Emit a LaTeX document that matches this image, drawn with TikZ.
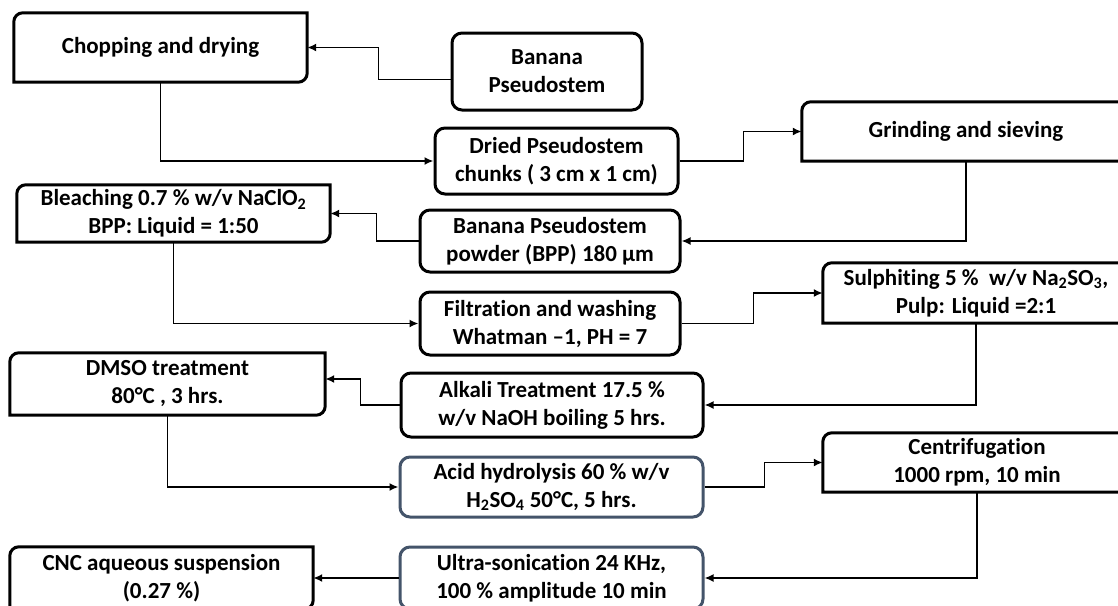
\documentclass[tikz,border=0pt]{standalone}
\usepackage{fontspec}
\setmainfont{Carlito}[Ligatures=NoCommon]
\usepackage{xcolor}
\usepackage{tikz}
\usetikzlibrary{arrows.meta}

\definecolor{slate}{HTML}{44546A}

% box with only the top left and bottom right corners rounded
\newcommand{\cornerbox}[1]{%
  \draw[line width=3pt]
    ([yshift=-9pt]#1.north west) arc[start angle=180, end angle=90, radius=9pt]
    -- (#1.north east) -- ([yshift=9pt]#1.south east)
    arc[start angle=0, end angle=-90, radius=9pt]
    -- (#1.south west) -- cycle;}

\begin{document}
\begin{tikzpicture}[
    x=1pt, y=1pt,
    every node/.style={font=\bfseries\fontsize{23}{28}\selectfont, align=center, inner sep=0pt},
    stage/.style={draw, rounded corners=10pt, line width=3pt},
    side/.style={draw=none},
    acidbox/.style={draw=slate, rounded corners=10pt, line width=3pt},
    arr/.style={-{Latex[length=9pt,width=8pt]}, line width=1.8pt}
]
\useasboundingbox (0,0) rectangle (1118,-605);
\clip (0,0) rectangle (1118,-605);

\node[side, minimum width=293pt, minimum height=69pt] (chop) at (160.5,-47.5) {Chopping and drying};
\node[stage, minimum width=190pt, minimum height=77pt] (banana) at (547,-71.5) {Banana\\Pseudostem};
\node[stage, minimum width=243pt, minimum height=66pt] (dried) at (556.5,-161) {Dried Pseudostem\\chunks ( 3 cm x 1 cm)};
\node[side, minimum width=328pt, minimum height=59pt] (grind) at (966,-131.5) {Grinding and sieving};
\node[stage, minimum width=260pt, minimum height=62pt] (bpp) at (550,-241) {Banana Pseudostem\\powder (BPP) 180 µm};
\node[side, minimum width=313pt, minimum height=57pt] (bleach) at (173.5,-213.5) {Bleaching 0.7 \% w/v NaClO\textsubscript{2}\\BPP: Liquid = 1:50};
\node[stage, minimum width=260pt, minimum height=63pt] (filt) at (550,-323.5) {Filtration and washing\\Whatman –1, PH = 7};
\node[side, minimum width=306pt, minimum height=60pt] (sulph) at (976,-293) {Sulphiting 5 \%~ w/v Na\textsubscript{2}SO\textsubscript{3},\\Pulp: Liquid =2:1};
\node[stage, minimum width=302pt, minimum height=64pt] (alkali) at (552,-405) {Alkali Treatment 17.5 \%\\w/v NaOH boiling 5 hrs.};
\node[side, minimum width=315pt, minimum height=62pt] (dmso) at (167.5,-384) {DMSO treatment\\80°C , 3 hrs.};
\node[acidbox, minimum width=303pt, minimum height=60pt] (acid) at (551.5,-487) {Acid hydrolysis 60 \% w/v\\H\textsubscript{2}SO\textsubscript{4} 50°C, 5 hrs.};
\node[side, minimum width=308pt, minimum height=59pt] (centri) at (977,-462.5) {Centrifugation\\1000 rpm, 10 min};
\node[acidbox, minimum width=303pt, minimum height=62pt] (ultra) at (551.5,-578) {Ultra-sonication 24 KHz,\\100 \% amplitude 10 min};
\node[side, minimum width=303pt, minimum height=62pt] (cnc) at (161.5,-578) {CNC aqueous suspension\\(0.27 \%)};

\cornerbox{chop}
\cornerbox{grind}
\cornerbox{bleach}
\cornerbox{sulph}
\cornerbox{dmso}
\cornerbox{centri}
\cornerbox{cnc}

\draw[arr] ([yshift=-8pt]banana.west) -- ++(-72,0) |- (chop.east);
\draw[arr] (chop.south) |- (dried.west);
\draw[arr] (dried.east) -- ++(64,0) |- (grind.west);
\draw[arr] (grind.south) |- (bpp.east);
\draw[arr] (bpp.west) -- ++(-42,0) |- (bleach.east);
\draw[arr] (bleach.south) |- (filt.west);
\draw[arr] (filt.east) -- ++(72,0) |- (sulph.west);
\draw[arr] (sulph.south) |- (alkali.east);
\draw[arr] (alkali.west) -- ++(-39,0) |- ([yshift=5pt]dmso.east);
\draw[arr] (dmso.south) |- (acid.west);
\draw[arr] (acid.east) -- ++(60,0) |- (centri.west);
\draw[arr] (centri.south) |- (ultra.east);
\draw[arr] (ultra) -- (cnc);
\end{tikzpicture}
\end{document}
